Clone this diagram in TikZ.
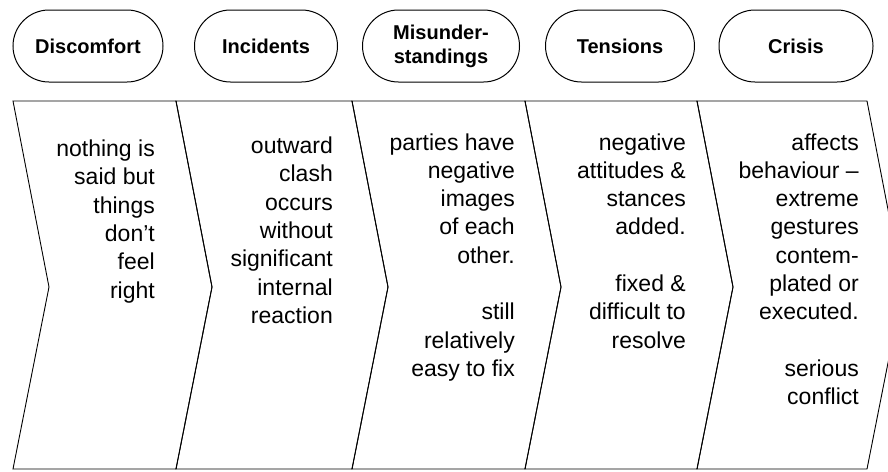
\documentclass[tikz,border=0pt]{standalone}
\usepackage{fontspec}
\setmainfont{Liberation Sans}
\usetikzlibrary{shapes.misc}
\begin{document}
\begin{tikzpicture}[x=1pt,y=-1pt,
  stage/.style={rounded rectangle, draw, line width=1pt, minimum height=72pt,
    inner sep=0pt, font=\fontsize{20}{24}\selectfont\bfseries, align=center},
  desc/.style={anchor=base east, inner sep=0pt, font=\fontsize{23}{28.3}\selectfont},
  chev/.style={draw, line width=0.9pt, line join=miter}]
\useasboundingbox (0,0) rectangle (888,471);
\clip (0,0) rectangle (888,471);
\def\ytop{101}\def\ybot{469}\def\ymid{287}\def\tip{36}
% chevrons
\foreach \xa/\xb in {13/176,176/352,352/525,525/697,697/867}{
  \draw[chev] (\xa,\ytop) -- (\xb,\ytop) -- ({\xb+\tip},\ymid) -- (\xb,\ybot)
    -- (\xa,\ybot) -- ({\xa+\tip},\ymid) -- cycle;
}
% stage labels
\node[stage, minimum width=150pt] (h1) at (88,46) {Discomfort};
\node[stage, minimum width=143pt] (h2) at (266,46) {Incidents};
\node[stage, minimum width=157pt] (h3) at (441,46) {Misunder-\\standings};
\node[stage, minimum width=149pt] (h4) at (620,46) {Tensions};
\node[stage, minimum width=154pt] (h5) at (796,46) {Crisis};
% descriptions
\node[desc] (t1) at (155,156.5) {\begin{tabular}[t]{@{}r@{}}nothing is\\said but\\things\\don’t\\feel\\right\end{tabular}};
\node[desc] (t2) at (333,153.5) {\begin{tabular}[t]{@{}r@{}}outward\\clash\\occurs\\without\\significant\\internal\\reaction\end{tabular}};
\node[desc] (t3) at (515,150) {\begin{tabular}[t]{@{}r@{}}parties have\\negative\\images\\of each\\other.\\ \\still\\relatively\\easy to fix\end{tabular}};
\node[desc] (t4) at (686,150) {\begin{tabular}[t]{@{}r@{}}negative\\attitudes \&\\stances\\added.\\ \\fixed \&\\difficult to\\resolve\end{tabular}};
\node[desc] (t5) at (859,150) {\begin{tabular}[t]{@{}r@{}}affects\\behaviour –\\extreme\\gestures\\contem-\\plated or\\executed.\\ \\serious\\conflict\end{tabular}};
\end{tikzpicture}
\end{document}
